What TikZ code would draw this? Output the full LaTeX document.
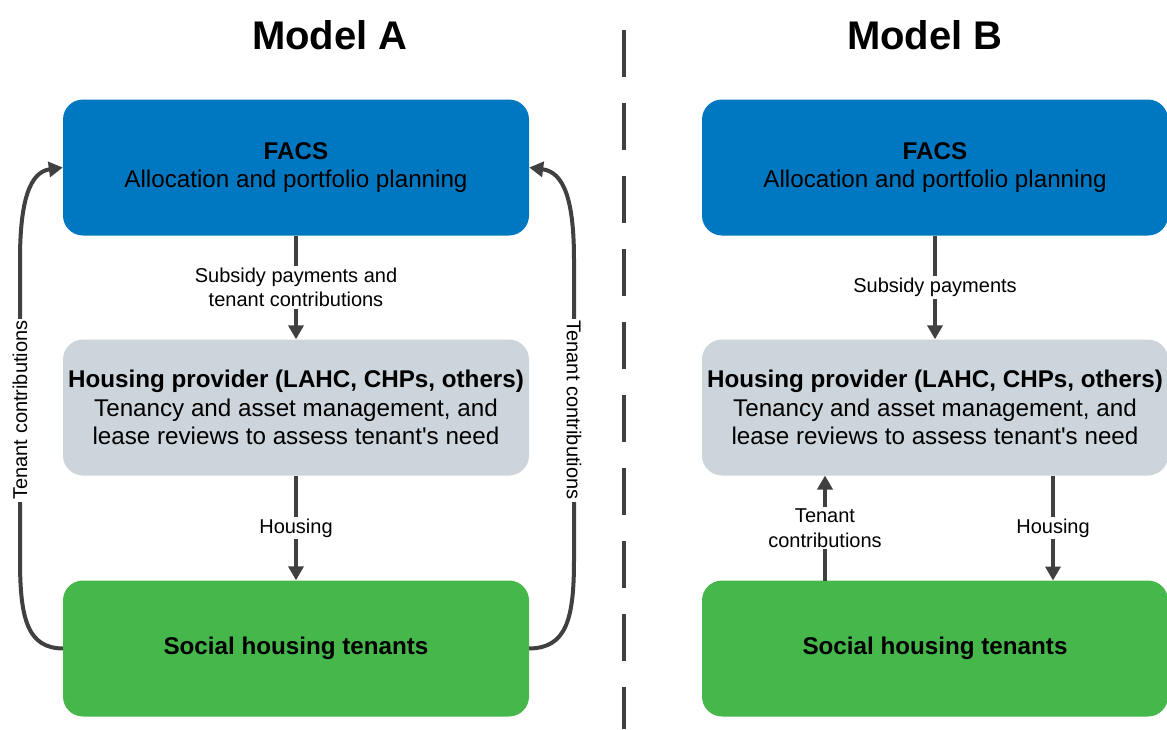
\documentclass[tikz,border=0pt]{standalone}
\usepackage{fontspec}
\setmainfont{Liberation Sans}
\usetikzlibrary{arrows.meta}
\definecolor{facsblue}{RGB}{0,120,193}
\definecolor{provgray}{RGB}{204,213,220}
\definecolor{tengreen}{RGB}{70,183,75}
\definecolor{linegray}{RGB}{64,64,64}
\tikzset{
  box/.style={rounded corners=20pt, minimum width=466pt, minimum height=136pt, align=center, inner sep=0pt},
  facsbox/.style={box, fill=facsblue},
  provbox/.style={box, fill=provgray},
  tenbox/.style={box, fill=tengreen},
  maintext/.style={font=\fontsize{24.2}{28.5}\selectfont},
  titletext/.style={font=\fontsize{40}{46}\selectfont\bfseries},
  lbl/.style={fill=white, inner sep=2pt, align=center, font=\fontsize{20}{24.5}\selectfont},
  flow/.style={draw=linegray, line width=4pt, -{Triangle[length=14pt,width=15pt]}},
  plain/.style={draw=linegray, line width=4pt},
  divider/.style={draw=linegray, line width=4.5pt, dash pattern=on 47pt off 26pt}
}
\begin{document}
\begin{tikzpicture}[x=1pt,y=-1pt]
\useasboundingbox (0,0) rectangle (1167,729);
% titles
\node[titletext] (tA) at (330,35) {Model A};
\node[titletext] (tB) at (925,35) {Model B};
% divider
\coordinate (d1) at (624,30);
\coordinate (d2) at (624,729);
\draw[divider] (d1) -- (d2);
% Model A boxes
\node[facsbox, maintext] (facsA) at (296,167.5) {\textbf{FACS}\\Allocation and portfolio planning};
\node[provbox, maintext] (provA) at (296,407.5) {\textbf{Housing provider (LAHC, CHPs, others)}\\Tenancy and asset management, and\\lease reviews to assess tenant\textquotesingle s need};
\node[tenbox, maintext] (tenA) at (296,648.5) {\textbf{Social housing tenants}};
% Model B boxes
\node[facsbox, maintext] (facsB) at (935,167.5) {\textbf{FACS}\\Allocation and portfolio planning};
\node[provbox, maintext] (provB) at (935,407.5) {\textbf{Housing provider (LAHC, CHPs, others)}\\Tenancy and asset management, and\\lease reviews to assess tenant\textquotesingle s need};
\node[tenbox, maintext] (tenB) at (935,648.5) {\textbf{Social housing tenants}};
% Model A straight arrows
\draw[flow] (facsA.south) -- node[lbl] (lsub) {Subsidy payments and\\tenant contributions} (provA.north);
\draw[flow] (provA.south) -- node[lbl] (lhousA) {Housing} (tenA.north);
% Model A curved arrows
\coordinate (Lb) at (20,560);
\coordinate (Lt) at (20,260);
\draw[plain] (tenA.west) .. controls (28,648) and (20,620) .. (Lb) -- node[lbl, rotate=90] (ltcL) {Tenant contributions} (Lt);
\draw[flow] (Lt) .. controls (20,200) and (30,172) .. (facsA.west);
\coordinate (Rb) at (574,560);
\coordinate (Rt) at (574,260);
\draw[plain] (tenA.east) .. controls (566,648) and (574,620) .. (Rb) -- node[lbl, rotate=-90] (ltcR) {Tenant contributions} (Rt);
\draw[flow] (Rt) .. controls (574,200) and (564,172) .. (facsA.east);
% Model B arrows
\draw[flow] (facsB.south) -- node[lbl] (lsubB) {Subsidy payments} (provB.north);
\coordinate (tcB1) at (825,580.5);
\coordinate (tcB2) at (825,475.5);
\draw[flow] (tcB1) -- node[lbl] (ltcB) {Tenant\\contributions} (tcB2);
\coordinate (hB1) at (1053,475.5);
\coordinate (hB2) at (1053,580.5);
\draw[flow] (hB1) -- node[lbl] (lhousB) {Housing} (hB2);
\end{tikzpicture}
\end{document}
